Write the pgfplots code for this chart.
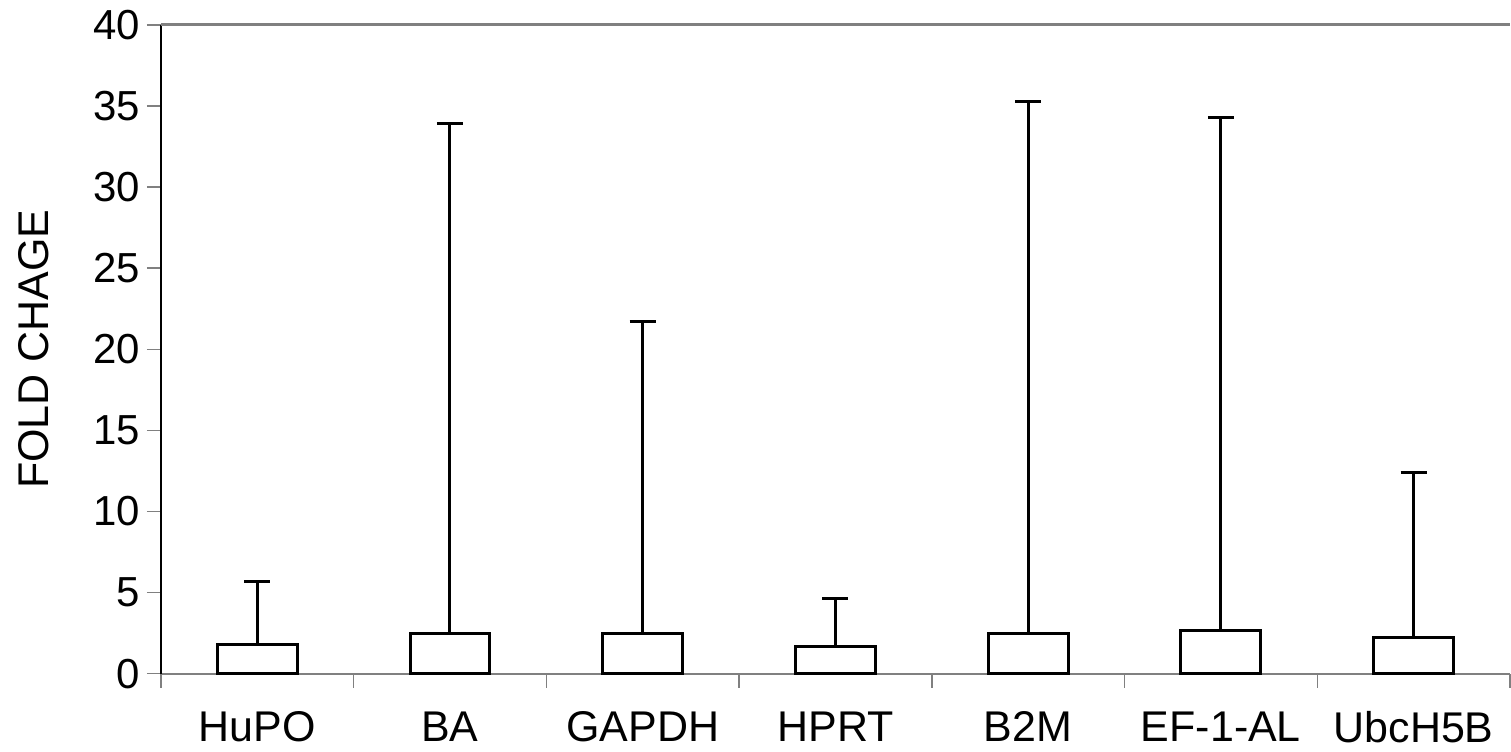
\documentclass[border=0pt]{standalone}
\usepackage{pgfplots}
\pgfplotsset{compat=1.18}
\usepackage{fontspec}
\setmainfont{Liberation Sans}
\begin{document}
\begin{tikzpicture}
\path[use as bounding box] (-80.5pt,-39pt) rectangle (675.5pt,337pt);
\begin{axis}[
  at={(0,0)}, anchor=south west,
  scale only axis, width=675pt, height=324.5pt,
  xmin=-0.5, xmax=6.5, ymin=0, ymax=40,
  axis x line*=bottom, axis y line*=left,
  x axis line style={draw=gray, line width=1pt},
  y axis line style={draw=black, line width=0.7pt},
  ytick={0,5,...,40},
  xtick={0,...,6},
  xticklabels={HuPO,BA,GAPDH,HPRT,B2M,EF-1-AL,UbcH5B},
  minor xtick={-0.5,0.5,...,6.5},
  major x tick style={draw=none},
  minor x tick style={draw=gray, line width=0.75pt},
  ytick style={draw=gray, line width=0.75pt},
  tick align=outside,
  major tick length=7pt, minor tick length=7pt,
  /pgf/number format/assume math mode=true,
  yticklabel style={font=\fontsize{21}{25}\selectfont},
  xticklabel style={font=\fontsize{21.5}{25}\selectfont, yshift=-8.5pt},
  ylabel={FOLD CHAGE},
  every axis y label/.style={at={(axis description cs:-0.0944,0.5)}, rotate=90, anchor=center, font=\fontsize{21.5}{25}\selectfont},
  clip=false,
]
\addplot[ybar, bar width=40pt, fill=white, draw=black, line width=1.5pt,
  error bars/.cd, y dir=plus, y explicit,
  error bar style={line width=1.5pt, black},
  error mark options={rotate=90, mark size=6.5pt, line width=1.5pt, black}]
  table[x=x, y=y, y error=e] {
x y e
0 1.8 3.9
1 2.45 31.45
2 2.45 19.25
3 1.65 2.95
4 2.45 32.85
5 2.65 31.65
6 2.25 10.15
};
\draw[gray, line width=1.5pt] (rel axis cs:0,1) -- (rel axis cs:1,1);
\end{axis}
\end{tikzpicture}
\end{document}
